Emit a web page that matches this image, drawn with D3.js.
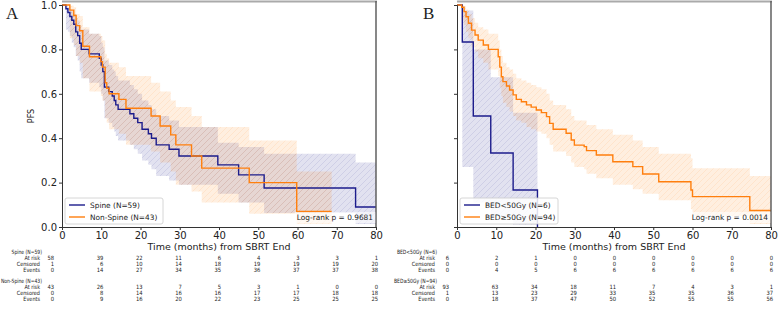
<!DOCTYPE html>
<html><head><meta charset="utf-8">
<script src="https://cdn.jsdelivr.net/npm/d3@7"></script>
<style>
body{margin:0;background:#fff}
text{font-family:"DejaVu Sans",sans-serif;fill:#222}
</style></head><body>
<svg id="chart" width="778" height="317"></svg>
<script>
const xTicks = [0,10,20,30,40,50,60,70,80];
const yTicks = [0,0.2,0.4,0.6,0.8,1.0];
const tableRows = ["At risk","Censored","Events"];

// Panel A: Spine
const spineT  = [0,1.0,1.5,2.0,2.5,3.0,3.5,4.0,4.5,4.9,6.9,9.5,10.0,10.4,10.8,11.9,12.8,13.3,13.7,14.3,17.3,18.3,19.3,20.4,22.0,22.8,24.0,27.3,29.8,39.7,45.0,51.5,74.8];
const spineS  = [1,0.983,0.966,0.948,0.931,0.913,0.879,0.862,0.828,0.80,0.78,0.76,0.73,0.70,0.63,0.61,0.59,0.57,0.55,0.53,0.51,0.49,0.47,0.44,0.42,0.40,0.37,0.35,0.32,0.28,0.235,0.176,0.09];
const spineLo = [1,0.89,0.88,0.86,0.83,0.81,0.77,0.75,0.70,0.67,0.65,0.63,0.60,0.57,0.49,0.47,0.45,0.43,0.41,0.39,0.37,0.35,0.33,0.30,0.28,0.26,0.23,0.21,0.19,0.15,0.11,0.063,0.014];
const spineHi = [1,0.998,0.99,0.98,0.97,0.96,0.94,0.93,0.91,0.89,0.87,0.86,0.83,0.81,0.75,0.73,0.71,0.70,0.68,0.66,0.64,0.62,0.60,0.57,0.55,0.53,0.50,0.48,0.45,0.38,0.36,0.33,0.29];

// Panel A: Non-Spine
const nonT  = [0,2.0,3.0,3.6,4.5,5.3,7.0,9.9,10.3,11.0,11.4,12.0,14.5,16.3,22.7,25.0,27.7,29.0,33.0,35.6,47.7,59.8];
const nonS  = [1,0.977,0.953,0.907,0.884,0.814,0.767,0.745,0.72,0.65,0.625,0.60,0.575,0.535,0.50,0.455,0.415,0.37,0.32,0.265,0.20,0.07];
const nonLo = [1,0.85,0.82,0.77,0.74,0.67,0.61,0.59,0.57,0.49,0.47,0.44,0.42,0.37,0.34,0.29,0.25,0.19,0.16,0.11,0.06,0.015];
const nonHi = [1,0.997,0.99,0.96,0.95,0.90,0.87,0.86,0.84,0.78,0.76,0.74,0.72,0.68,0.65,0.61,0.57,0.54,0.50,0.45,0.39,0.25];

// Panel B: BED<50Gy
const lowT  = [0,1.35,4.15,8.6,14.3,20.5];
const lowS  = [1,0.833,0.5,0.333,0.167,0];
const lowLo = [1,0.27,0.11,0.05,0.01,0];
const lowHi = [1,0.975,0.80,0.675,0.515,0];

// Panel B: BED>=50Gy
const highT  = [0,1.2,1.8,2.3,2.9,3.7,4.6,5.4,6.7,8.0,10.5,10.9,11.3,11.7,12.6,13.4,14.3,15.1,16.4,17.7,18.9,20.2,21.5,22.8,23.6,24.5,27.8,29.1,29.9,32.4,33.0,35.5,39.7,44.8,47.3,51.4,59.6,60.0,74.6];
const highS  = [1,0.99,0.97,0.947,0.918,0.887,0.865,0.842,0.82,0.80,0.767,0.72,0.677,0.655,0.635,0.617,0.595,0.575,0.564,0.55,0.54,0.527,0.515,0.497,0.467,0.44,0.422,0.392,0.369,0.362,0.344,0.324,0.294,0.272,0.239,0.204,0.167,0.137,0.074];
const highLo = [1,0.93,0.91,0.88,0.85,0.81,0.79,0.76,0.74,0.71,0.68,0.63,0.59,0.56,0.54,0.52,0.50,0.48,0.47,0.45,0.44,0.43,0.42,0.40,0.37,0.34,0.32,0.29,0.27,0.26,0.24,0.22,0.19,0.17,0.15,0.12,0.08,0.05,0.014];
const highHi = [1,0.999,0.995,0.98,0.96,0.94,0.92,0.90,0.89,0.87,0.84,0.80,0.77,0.74,0.72,0.71,0.69,0.67,0.66,0.65,0.64,0.63,0.62,0.60,0.57,0.55,0.53,0.50,0.48,0.48,0.46,0.44,0.415,0.39,0.36,0.33,0.31,0.265,0.23];

// at-risk tables
const spineRisk = [[58,39,22,11,6,4,3,3,1],[1,6,10,14,18,19,19,19,20],[0,14,27,34,35,36,37,37,38]];
const nonRisk   = [[43,26,13,7,5,3,1,0,0],[0,8,14,16,16,17,17,18,18],[0,9,16,20,22,23,25,25,25]];
const lowRisk   = [[6,2,1,0,0,0,0,0,0],[0,0,0,0,0,0,0,0,0],[0,4,5,6,6,6,6,6,6]];
const highRisk  = [[93,63,34,18,11,7,4,3,1],[1,13,23,29,33,35,35,36,37],[0,18,37,47,50,52,55,55,56]];

const NAVY = "#1c1c8c", ORANGE = "#ff7f0e";
const svg = d3.select("#chart");
const defs = svg.append("defs");

function hatch(id, color) {
  const p = defs.append("pattern").attr("id", id).attr("patternUnits", "userSpaceOnUse")
    .attr("width", 6).attr("height", 6);
  p.append("rect").attr("width", 6).attr("height", 6).attr("fill", color).attr("opacity", 0.13);
  p.append("path").attr("d", "M-1,1 l2,-2 M0,6 l6,-6 M5,7 l2,-2")
    .attr("stroke", color).attr("stroke-width", 0.8).attr("opacity", 0.12);
}
hatch("hN", NAVY); hatch("hO", ORANGE);

// narrow label text: squeezed horizontally around its right edge
function label(sel, px, py, str, size, sx) {
  return sel.append("text").attr("transform", `translate(${px},${py}) scale(${sx},1)`)
    .attr("text-anchor", "end").attr("font-size", size).text(str);
}

function panel(cfg) {
  const x = d3.scaleLinear().domain([0, 80]).range([cfg.left, cfg.left + 314]);
  const y = d3.scaleLinear().domain([0, 1]).range([227, 5]);
  const g = svg.append("g");
  const clipId = "clip" + cfg.letter;
  defs.append("clipPath").attr("id", clipId).append("rect")
    .attr("x", x(0)).attr("y", 1).attr("width", x(80) - x(0)).attr("height", 227);

  const plot = g.append("g").attr("clip-path", `url(#${clipId})`);
  cfg.series.forEach(s => {
    const pts = s.t.map((t, i) => ({t, s: s.s[i], lo: s.lo[i], hi: s.hi[i]}));
    const last = pts[pts.length - 1];
    pts.push({t: s.end, s: last.s, lo: last.lo, hi: last.hi});
    plot.append("path").datum(pts).attr("fill", `url(#${s.hatch})`)
      .attr("d", d3.area().curve(d3.curveStepAfter).x(d => x(d.t)).y0(d => y(d.lo)).y1(d => y(d.hi)));
  });
  cfg.series.forEach(s => {
    const pts = s.t.map((t, i) => ({t, s: s.s[i]}));
    pts.push({t: s.end, s: s.s[s.s.length - 1]});
    plot.append("path").datum(pts).attr("fill", "none").attr("stroke", s.color).attr("stroke-width", 1.4)
      .attr("d", d3.line().curve(d3.curveStepAfter).x(d => x(d.t)).y(d => y(d.s)));
  });

  // frame
  g.append("line").attr("x1", x(0)).attr("x2", x(80) + 1).attr("y1", 1.5).attr("y2", 1.5)
    .attr("stroke", "#aaa").attr("stroke-width", 2);
  g.append("line").attr("x1", x(80)).attr("x2", x(80)).attr("y1", 1).attr("y2", 227)
    .attr("stroke", "#555").attr("stroke-width", 1.4);

  const xa = g.append("g").attr("transform", "translate(0,227)")
    .call(d3.axisBottom(x).tickValues(xTicks).tickSize(3).tickPadding(2));
  xa.selectAll("text").attr("font-size", 10).attr("font-family", "DejaVu Sans");
  const ya = g.append("g").attr("transform", `translate(${x(0)},0)`)
    .call(d3.axisLeft(y).tickValues(yTicks).tickSize(3).tickPadding(2).tickFormat(cfg.yLabels ? d3.format(".1f") : ""));
  ya.selectAll("text").attr("font-size", 10).attr("font-family", "DejaVu Sans");
  g.selectAll(".domain").attr("stroke", "#333");
  g.selectAll(".tick line").attr("stroke", "#333");

  if (cfg.yLabels) {
    g.append("text").attr("transform", "translate(34,116) rotate(-90)").attr("text-anchor", "middle")
      .attr("font-size", 8).text("PFS");
  }
  g.append("text").attr("x", (x(0) + x(80)) / 2).attr("y", 250).attr("text-anchor", "middle")
    .attr("font-size", 9.5).text("Time (months) from SBRT End");
  g.append("text").attr("x", cfg.letterX).attr("y", 19).attr("font-size", 17)
    .style("font-family", "Liberation Serif, serif").text(cfg.letter);

  // legend
  const lg = g.append("g").attr("transform", `translate(${x(0) + 3},198)`);
  lg.append("rect").attr("width", 98).attr("height", 26).attr("rx", 2).attr("fill", "#fff")
    .attr("fill-opacity", 0.85).attr("stroke", "#ccc").attr("stroke-width", 0.8);
  cfg.series.forEach((s, i) => {
    lg.append("line").attr("x1", 4).attr("x2", 20).attr("y1", 7 + i * 12).attr("y2", 7 + i * 12)
      .attr("stroke", s.color).attr("stroke-width", 1.4);
    lg.append("text").attr("x", 25).attr("y", 9.5 + i * 12).attr("font-size", 7.4).text(s.name);
  });

  // log-rank
  const lt = g.append("text").attr("x", x(80) - 3).attr("y", 220).attr("text-anchor", "end")
    .attr("font-size", 7.4).text(cfg.pText);
  const bb = lt.node().getBBox();
  g.insert("rect", () => lt.node()).attr("x", bb.x - 2).attr("y", bb.y - 1).attr("width", bb.width + 4)
    .attr("height", bb.height + 2).attr("fill", "#fff").attr("fill-opacity", 0.6);

  // at-risk table
  const tg = g.append("g");
  cfg.series.forEach((s, k) => {
    const y0 = 254 + k * 29;
    label(tg, x(0) - 20, y0, s.name, 5.8, 0.78);
    tableRows.forEach((r, j) => {
      const ry = y0 + 6.2 + j * 6;
      label(tg, x(0) - 22, ry, r, 5.8, 0.85);
      s.risk[j].forEach((v, c) => {
        label(tg, c === 0 ? x(0) - 8 : x(xTicks[c]) + 2, ry, v, 5.8, 0.9);
      });
    });
  });
}

panel({letter: "A", letterX: 6, left: 62, yLabels: true, pText: "Log-rank p = 0.9681",
  series: [
    {name: "Spine (N=59)", color: NAVY, hatch: "hN", t: spineT, s: spineS, lo: spineLo, hi: spineHi, end: 82, risk: spineRisk},
    {name: "Non-Spine (N=43)", color: ORANGE, hatch: "hO", t: nonT, s: nonS, lo: nonLo, hi: nonHi, end: 68.7, risk: nonRisk}
  ]});
panel({letter: "B", letterX: 423, left: 457, yLabels: false, pText: "Log-rank p = 0.0014",
  series: [
    {name: "BED<50Gy (N=6)", color: NAVY, hatch: "hN", t: lowT, s: lowS, lo: lowLo, hi: lowHi, end: 20.5, risk: lowRisk},
    {name: "BED\u226550Gy (N=94)", color: ORANGE, hatch: "hO", t: highT, s: highS, lo: highLo, hi: highHi, end: 82, risk: highRisk}
  ]});
</script>
</body></html>
